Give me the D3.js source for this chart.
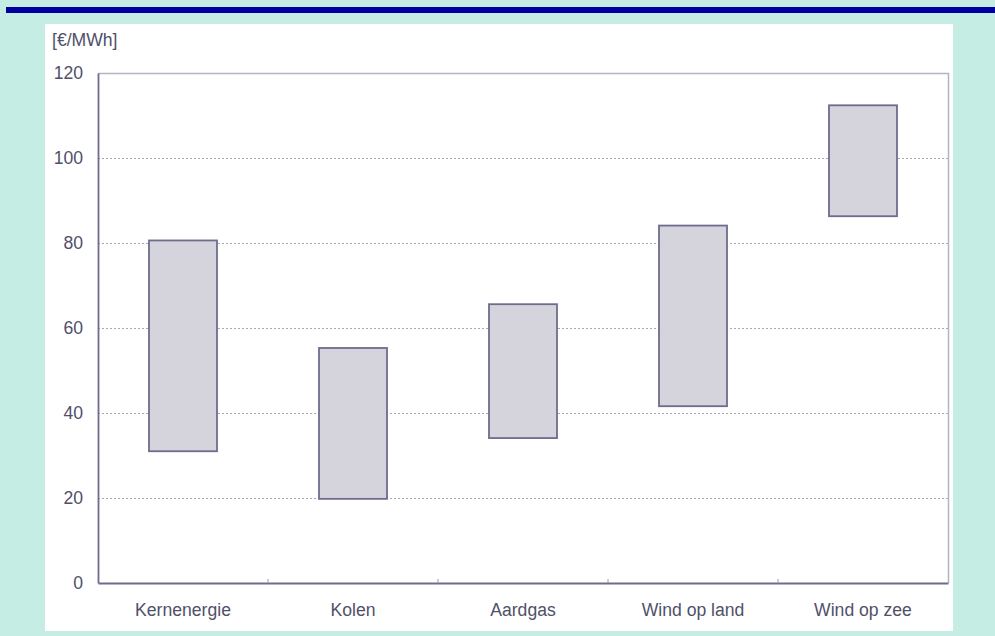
<!DOCTYPE html>
<html>
<head>
<meta charset="utf-8">
<script src="https://cdn.jsdelivr.net/npm/d3@7"></script>
<style>
  html, body { margin: 0; padding: 0; background: #c5ede4; }
  svg { display: block; }
</style>
</head>
<body>
<svg id="chart"></svg>
<script>
// Bandbreedte kostprijs elektriciteit per technologie
const categories = ["Kernenergie", "Kolen", "Aardgas", "Wind op land", "Wind op zee"];
const lowValues = [31.0, 19.8, 34.1, 41.6, 86.3];
const highValues = [80.6, 55.3, 65.6, 84.1, 112.4];
const yTicks = [0, 20, 40, 60, 80, 100, 120];
const unitLabel = "[€/MWh]";

const width = 995, height = 636;
const svg = d3.select("#chart").attr("width", width).attr("height", height);

// top blue strip and white panel
svg.append("rect").attr("x", 6).attr("y", 7).attr("width", width - 6).attr("height", 6).attr("fill", "#0000a0");
svg.append("rect").attr("x", 45).attr("y", 24).attr("width", 908).attr("height", 607).attr("fill", "#ffffff");

const plot = { left: 98, right: 948, top: 73, bottom: 583 };

const x = d3.scaleBand().domain(categories).range([plot.left, plot.right]).paddingInner(0).paddingOuter(0);
const y = d3.scaleLinear().domain([0, 120]).range([plot.bottom, plot.top]);

const textColor = "#50506a";
const font = "'Liberation Sans', Arial, sans-serif";
const fontSize = "17.6px";

// gridlines
svg.append("g")
    .selectAll("line")
    .data(yTicks.filter(d => d > 0 && d < 120))
    .join("line")
    .attr("x1", plot.left).attr("x2", plot.right)
    .attr("y1", d => y(d) + 0.5).attr("y2", d => y(d) + 0.5)
    .attr("stroke", "#a8a8b4")
    .attr("stroke-width", 1)
    .attr("stroke-dasharray", "2,2");

// top and right frame
svg.append("path")
    .attr("d", `M${plot.left},${plot.top + 0.5}H${plot.right + 0.5}V${plot.bottom}`)
    .attr("fill", "none")
    .attr("stroke", "#b4b4c2")
    .attr("stroke-width", 1.5);

// bars (range low..high)
const barW = x.bandwidth() * 0.4;
svg.append("g")
    .selectAll("rect")
    .data(categories)
    .join("rect")
    .attr("x", d => x(d) + (x.bandwidth() - barW) / 2)
    .attr("y", (d, i) => y(highValues[i]))
    .attr("width", barW)
    .attr("height", (d, i) => y(lowValues[i]) - y(highValues[i]))
    .attr("fill", "#d5d4dc")
    .attr("stroke", "#6c6c8e")
    .attr("stroke-width", 1.8);

// y axis
const yAxis = svg.append("g")
    .attr("transform", `translate(${plot.left},0)`)
    .call(d3.axisLeft(y).tickValues(yTicks).tickSize(0).tickPadding(15));
yAxis.select(".domain").attr("stroke", "#6c6c8e").attr("stroke-width", 1.8);
yAxis.selectAll("text").attr("fill", textColor).style("font-family", font).style("font-size", fontSize);

// x axis
const xAxis = svg.append("g")
    .attr("transform", `translate(0,${plot.bottom})`)
    .call(d3.axisBottom(x).tickSize(0).tickPadding(21));
xAxis.select(".domain").attr("stroke", "#6c6c8e").attr("stroke-width", 1.8);
xAxis.selectAll("text").attr("fill", textColor).style("font-family", font).style("font-size", fontSize);

// small ticks between categories
svg.append("g")
    .selectAll("line")
    .data(categories.slice(1))
    .join("line")
    .attr("x1", d => x(d)).attr("x2", d => x(d))
    .attr("y1", plot.bottom - 4).attr("y2", plot.bottom)
    .attr("stroke", "#9a9aae")
    .attr("stroke-width", 1);

// unit label
svg.append("text")
    .attr("x", 52).attr("y", 46)
    .attr("fill", textColor)
    .style("font-family", font)
    .style("font-size", fontSize)
    .text(unitLabel);
</script>
</body>
</html>
